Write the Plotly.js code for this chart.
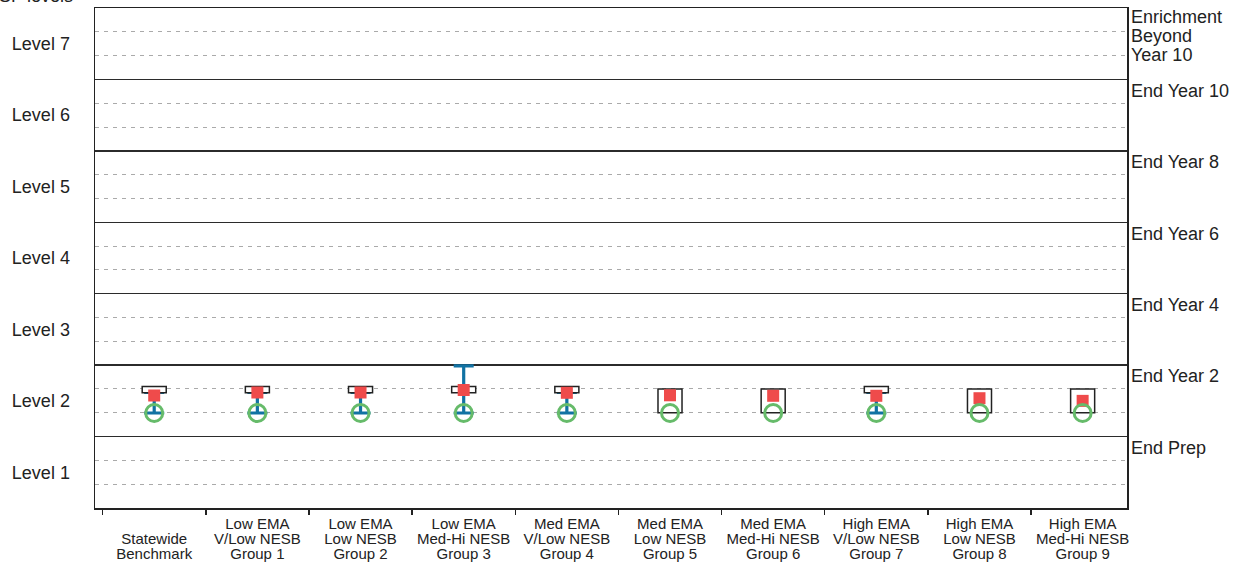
<!DOCTYPE html>
<html><head><meta charset="utf-8">
<script src="https://cdn.plot.ly/plotly-3.0.1.min.js"></script>
<style>html,body{margin:0;padding:0;background:#fff}#chart{width:1249px;height:570px}</style>
</head><body><div id="chart"></div>
<script>
// ---- data ----
const categories = [
  "Statewide<br>Benchmark",
  "Low EMA<br>V/Low NESB<br>Group 1",
  "Low EMA<br>Low NESB<br>Group 2",
  "Low EMA<br>Med-Hi NESB<br>Group 3",
  "Med EMA<br>V/Low NESB<br>Group 4",
  "Med EMA<br>Low NESB<br>Group 5",
  "Med EMA<br>Med-Hi NESB<br>Group 6",
  "High EMA<br>V/Low NESB<br>Group 7",
  "High EMA<br>Low NESB<br>Group 8",
  "High EMA<br>Med-Hi NESB<br>Group 9"
];
const levelLabels = ["Level 1","Level 2","Level 3","Level 4","Level 5","Level 6","Level 7"];
const stageLabels = ["End Prep","End Year 2","End Year 4","End Year 6","End Year 8","End Year 10","Enrichment<br>Beyond<br>Year 10"];
// black open box (low / high)
const boxLow  = [1.615,1.615,1.615,1.615,1.615,1.333,1.333,1.615,1.333,1.333];
const boxHigh = [1.700,1.700,1.700,1.700,1.700,1.667,1.667,1.700,1.667,1.667];
// blue bar (low / high)
const barLow  = [1.33,1.33,1.33,1.33,1.33,null,null,1.33,null,null];
const barHigh = [1.62,1.62,1.62,1.99,1.62,null,null,1.62,null,null];
// red square
const meanLevel = [1.575,1.617,1.617,1.652,1.613,1.578,1.571,1.571,1.537,1.500];
// green circle
const startLevel = [1.33,1.33,1.33,1.33,1.33,1.33,1.33,1.33,1.33,1.33];

// ---- helpers ----
const FONT = "Liberation Sans, Arial, Helvetica, sans-serif";
const maxLines = Math.max(...categories.map(c => c.split("<br>").length));
const xTickText = categories.map(c => {
  const n = c.split("<br>").length;
  const pad = n < maxLines ? " <br>" : "";
  return '<span style="font-size:15px">' + pad + c + '</span>';
});
const levelVals = levelLabels.map((_, i) => i + 0.5);
const stageVals = stageLabels.map((_, i) => i + 1);
const thirds = [];
levelLabels.forEach((_, i) => { thirds.push(i + 1/3, i + 2/3); });
const nLevels = levelLabels.length;
const wrapStage = s => '<span style="font-size:18px">' + s + '</span>';
// single-line stage labels on one axis, the multi-line top one on another
const singleIdx = stageLabels.map((s, i) => i).filter(i => stageLabels[i].indexOf("<br>") < 0);
const multiIdx = stageLabels.map((s, i) => i).filter(i => stageLabels[i].indexOf("<br>") >= 0);

const traces = [
  {
    type: "scatter", mode: "markers", x: categories, y: barLow,
    marker: {size: 1, opacity: 0}, hoverinfo: "skip", showlegend: false,
    error_y: {type: "data", symmetric: false,
      array: barHigh.map((h, i) => h == null ? null : h - barLow[i]),
      arrayminus: barLow.map(v => v == null ? null : 0),
      color: "#1172a3", thickness: 3.2, width: 10},
    xaxis: "x", yaxis: "y"
  },
  {
    type: "bar", x: categories, y: boxHigh.map((h, i) => h - boxLow[i]), base: boxLow,
    width: 0.233, marker: {color: "#ffffff", line: {color: "#222", width: 1.5}},
    hoverinfo: "skip", showlegend: false, xaxis: "x", yaxis: "y2"
  },
  {
    type: "scatter", mode: "markers", x: categories, y: meanLevel,
    marker: {symbol: "square", size: 12, color: "#ef4b4b"},
    showlegend: false, xaxis: "x", yaxis: "y2"
  },
  {
    type: "scatter", mode: "markers", x: categories, y: startLevel,
    marker: {symbol: "circle-open", size: 17, color: "#66bb6a", line: {width: 3, color: "#66bb6a"}},
    showlegend: false, xaxis: "x", yaxis: "y3"
  }
];

const layout = {
  width: 1249, height: 570,
  margin: {l: 95, r: 122, t: 8, b: 62},
  paper_bgcolor: "#fff", plot_bgcolor: "#fff",
  font: {family: FONT, color: "#222"},
  showlegend: false,
  xaxis: {
    type: "category", range: [-0.574, 9.43],
    tickmode: "array", tickvals: categories, ticktext: xTickText,
    tickson: "boundaries", ticks: "outside", ticklen: 5, tickwidth: 1.5, tickcolor: "#222",
    showline: true, linecolor: "#222", linewidth: 1.5, mirror: true,
    showgrid: false, zeroline: false, ticklabelstandoff: 6,
    tickfont: {size: 11.5, family: FONT, color: "#222"}, tickangle: 0
  },
  yaxis: {
    range: [0, nLevels], tickmode: "array", tickvals: levelVals, ticktext: levelLabels,
    ticks: "", showgrid: false, zeroline: false,
    showline: true, linecolor: "#222", linewidth: 1.5, mirror: true,
    tickfont: {size: 18, family: FONT, color: "#222"}, ticklabelstandoff: 20,
    minor: {tickmode: "array", tickvals: thirds, showgrid: true, gridcolor: "#aaaaaa",
            gridwidth: 1, griddash: "4px,5px", ticks: ""}
  },
  yaxis2: {
    overlaying: "y", side: "right", range: [0, nLevels],
    tickmode: "array", tickvals: stageVals,
    ticktext: stageLabels.map((s, i) => singleIdx.includes(i) ? wrapStage(s) : ""),
    ticks: "", showgrid: true, gridcolor: "#2b2b2b", gridwidth: 1.5, zeroline: false,
    showline: false, ticklabelposition: "outside bottom", ticklabeloverflow: "allow",
    ticklabelstandoff: 3, ticklabelshift: 2,
    tickfont: {size: 14.6, family: FONT, color: "#222"}
  },
  yaxis3: {
    overlaying: "y", side: "right", range: [0, nLevels],
    tickmode: "array", tickvals: multiIdx.map(i => stageVals[i]),
    ticktext: multiIdx.map(i => wrapStage(stageLabels[i])),
    ticks: "", showgrid: false, zeroline: false, showline: false,
    ticklabelposition: "outside bottom", ticklabeloverflow: "allow",
    ticklabelstandoff: 3, ticklabelshift: 19,
    tickfont: {size: 14.6, family: FONT, color: "#222"}
  },
  annotations: [{
    text: "CSF levels", xref: "paper", yref: "paper", x: -0.019, y: 1,
    xanchor: "right", yanchor: "bottom", showarrow: false,
    font: {size: 18, family: FONT, color: "#222"}
  }]
};

Plotly.newPlot("chart", traces, layout, {displayModeBar: false, staticPlot: true});
</script>
</body></html>
